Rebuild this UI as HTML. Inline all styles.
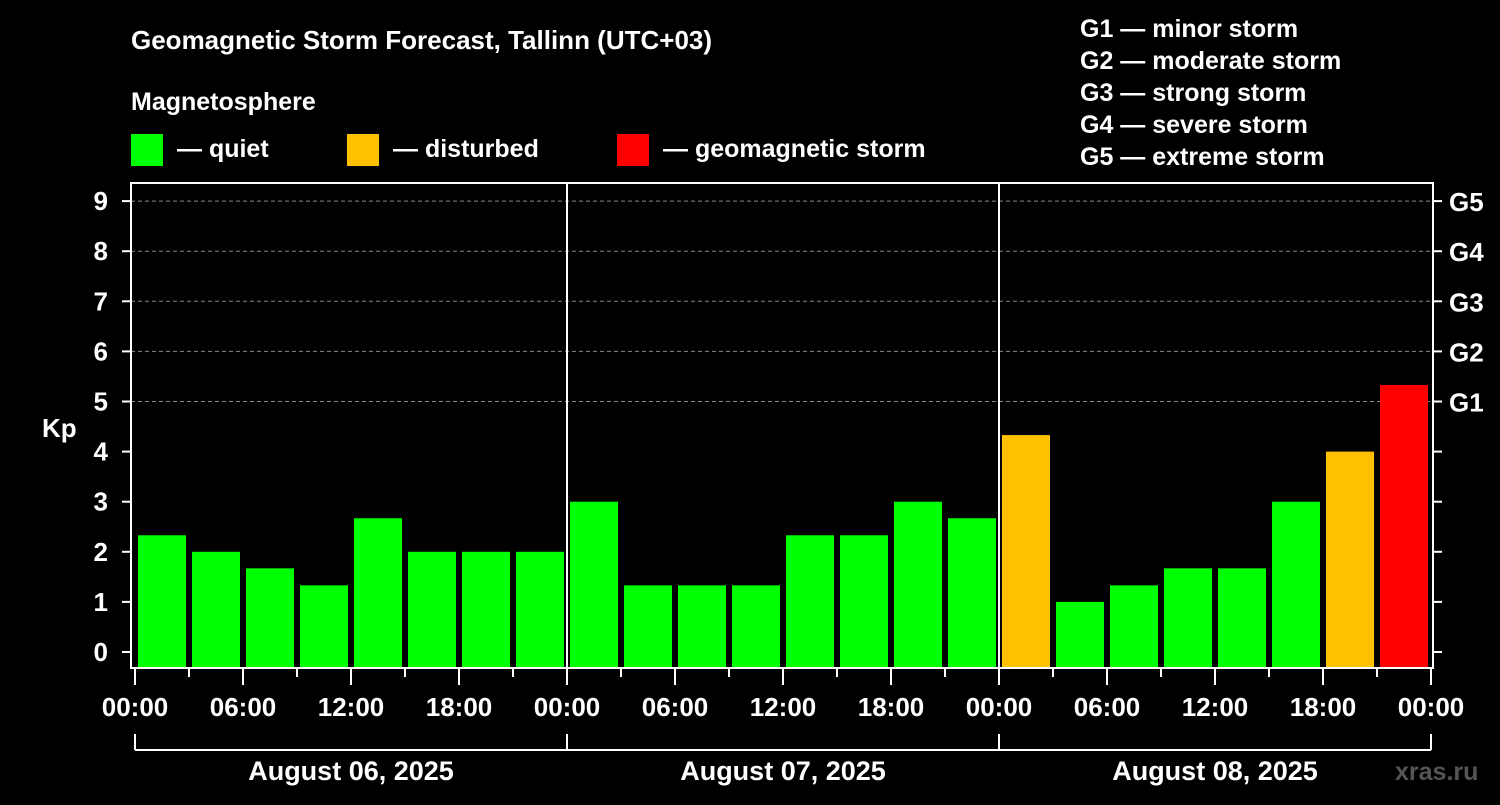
<!DOCTYPE html>
<html><head><meta charset="utf-8"><style>
html,body{margin:0;padding:0;background:#000;}
svg text{font-family:"Liberation Sans",Arial,sans-serif;font-weight:bold;fill:#fff;}
</style></head><body>
<svg id="chart" width="1500" height="800" xmlns="http://www.w3.org/2000/svg">
<rect width="1500" height="800" fill="#000"/>
<text x="131" y="49" font-size="26">Geomagnetic Storm Forecast, Tallinn (UTC+03)</text>
<text x="131" y="110" font-size="25">Magnetosphere</text>
<g><rect x="131" y="134" width="32" height="32" fill="#00ff00"/><text x="177" y="157" font-size="25">— quiet</text></g>
<g><rect x="347" y="134" width="32" height="32" fill="#ffc000"/><text x="393" y="157" font-size="25">— disturbed</text></g>
<g><rect x="617" y="134" width="32" height="32" fill="#ff0000"/><text x="663" y="157" font-size="25">— geomagnetic storm</text></g>
<g font-size="25">
<text x="1080" y="37">G1 — minor storm</text>
<text x="1080" y="69">G2 — moderate storm</text>
<text x="1080" y="101">G3 — strong storm</text>
<text x="1080" y="133">G4 — severe storm</text>
<text x="1080" y="165">G5 — extreme storm</text>
</g>
<text x="42" y="437" font-size="26">Kp</text>
<text x="1395" y="780" font-size="25" fill="#555" style="fill:#555">xras.ru</text>
<g id="grid"></g><g id="bars"></g><g id="axes"></g>
</svg>
<script>
const kpValues = [2.33,2,1.67,1.33,2.67,2,2,2, 3,1.33,1.33,1.33,2.33,2.33,3,2.67, 4.33,1,1.33,1.67,1.67,3,4,5.33];
const dayLabels = ["August 06, 2025","August 07, 2025","August 08, 2025"];
const hourLabels = ["00:00","06:00","12:00","18:00"];
const yTicks = [0,1,2,3,4,5,6,7,8,9];
const gLabels = ["G1","G2","G3","G4","G5"];
const NS="http://www.w3.org/2000/svg";
const X0=135, DAYW=432, LEFT=131, RIGHT=1433, TOP=183, BOT=668;
const x = h => X0 + h/24*DAYW;
const y = v => 652 - v*50.1;
function mk(t,a,p){const e=document.createElementNS(NS,t);for(const k in a)e.setAttribute(k,a[k]);p.appendChild(e);return e;}
const grid=document.getElementById('grid'),bars=document.getElementById('bars'),axes=document.getElementById('axes');
yTicks.forEach(v=>{
  if(v>=5){const l=mk('line',{x1:LEFT,x2:RIGHT,y1:y(v),y2:y(v),stroke:'#888','stroke-dasharray':'4,3','stroke-width':1},grid);
  
  }
  mk('line',{x1:122,x2:131,y1:y(v),y2:y(v),stroke:'#fff','stroke-width':2},axes);
  mk('line',{x1:1433,x2:1442,y1:y(v),y2:y(v),stroke:'#fff','stroke-width':2},axes);
  const t=mk('text',{x:108,y:y(v)+9,'font-size':26,'text-anchor':'end'},axes);t.textContent=v;
  
  
});
gLabels.forEach((g,i)=>{const t=mk('text',{x:1449,y:y(5+i)+10,'font-size':26},axes);t.textContent=g;
  
  });
kpValues.forEach((v,i)=>{
  const c=v>=5?'#ff0000':(v>=4?'#ffc000':'#00ff00');
  const r=mk('rect',{x:x(i*3)+3,y:y(v),width:48,height:BOT-y(v),fill:c},bars);
  
  
});
mk('rect',{x:LEFT,y:TOP,width:RIGHT-LEFT,height:BOT-TOP,fill:'none',stroke:'#fff','stroke-width':2},axes);
for(let d=1;d<3;d++) mk('line',{x1:x(d*24),x2:x(d*24),y1:TOP,y2:BOT,stroke:'#fff','stroke-width':2},axes);
for(let h=0;h<=72;h+=3){
  const major=h%6===0;
  mk('line',{x1:x(h),x2:x(h),y1:BOT,y2:major?685:677,stroke:'#fff','stroke-width':2},axes);
  if(major){const lbl=h===72?hourLabels[0]:hourLabels[(h%24)/6];
    const t=mk('text',{x:x(h),y:716,'font-size':26,'text-anchor':'middle'},axes);t.textContent=lbl;
    
    }
}
mk('line',{x1:x(0),x2:x(72),y1:750,y2:750,stroke:'#fff','stroke-width':2},axes);
for(let d=0;d<=3;d++) mk('line',{x1:x(d*24),x2:x(d*24),y1:734,y2:750,stroke:'#fff','stroke-width':2},axes);
dayLabels.forEach((s,d)=>{const t=mk('text',{x:x(d*24+12),y:780,'font-size':27,'text-anchor':'middle'},axes);t.textContent=s;
  
  });
</script>
</body></html>
